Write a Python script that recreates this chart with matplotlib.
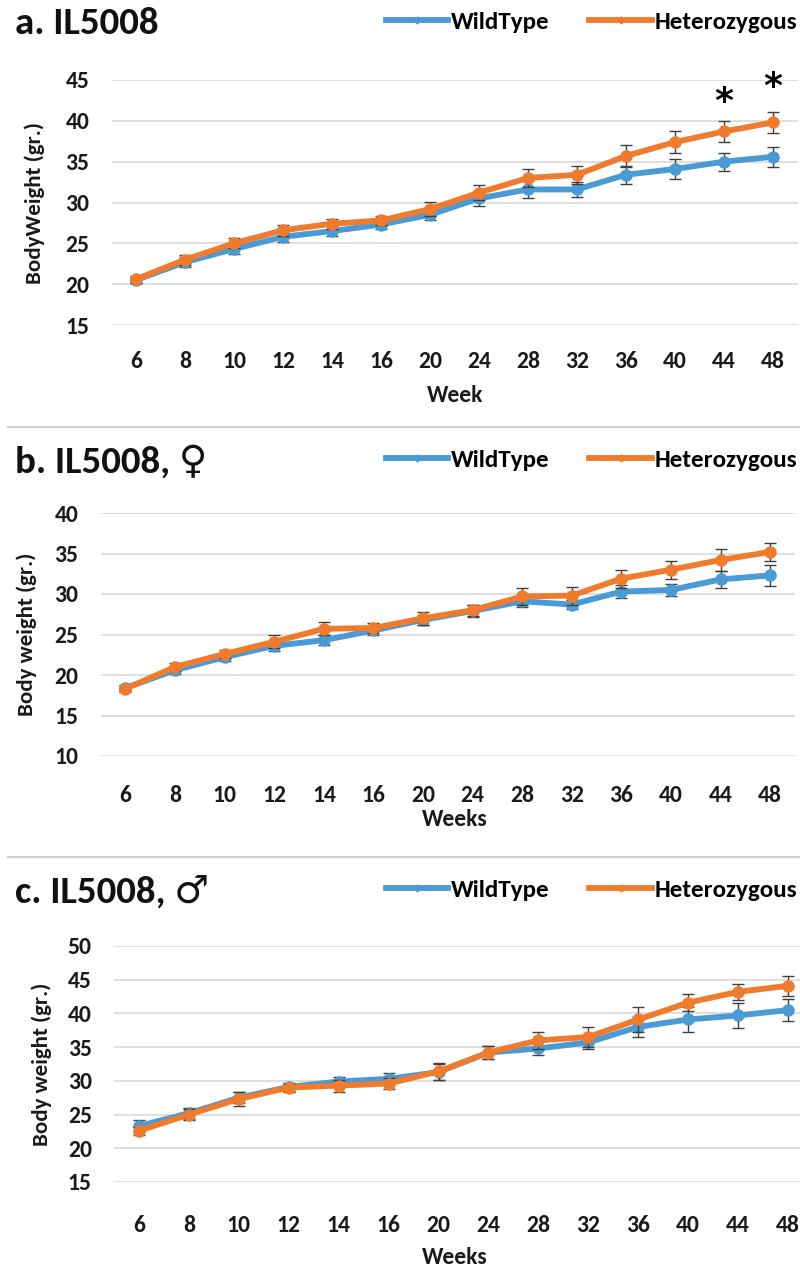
import matplotlib
matplotlib.use('Agg')
import matplotlib.pyplot as plt
from matplotlib.lines import Line2D
import numpy as np

# data
weeks = ['6', '8', '10', '12', '14', '16', '20', '24', '28', '32', '36', '40', '44', '48']

a_wt = [20.5, 22.7, 24.3, 25.8, 26.5, 27.3, 28.5, 30.5, 31.6, 31.6, 33.4, 34.1, 35.0, 35.6]
a_wt_err = [0.4, 0.6, 0.6, 0.6, 0.6, 0.6, 0.7, 0.9, 1.0, 0.9, 1.1, 1.2, 1.1, 1.2]
a_het = [20.6, 23.0, 25.0, 26.6, 27.4, 27.8, 29.2, 31.2, 33.0, 33.4, 35.7, 37.4, 38.7, 39.8]
a_het_err = [0.4, 0.6, 0.6, 0.7, 0.6, 0.6, 0.9, 0.9, 1.1, 1.1, 1.3, 1.3, 1.3, 1.3]

b_wt = [18.4, 20.6, 22.2, 23.6, 24.3, 25.5, 26.8, 27.9, 29.1, 28.7, 30.3, 30.5, 31.8, 32.3]
b_wt_err = [0.4, 0.5, 0.5, 0.6, 0.6, 0.5, 0.6, 0.7, 0.7, 0.6, 0.8, 0.7, 1.1, 1.3]
b_het = [18.3, 21.0, 22.6, 24.1, 25.7, 25.8, 27.0, 28.0, 29.7, 29.8, 31.9, 33.0, 34.2, 35.2]
b_het_err = [0.4, 0.5, 0.5, 0.8, 0.8, 0.6, 0.8, 0.7, 1.0, 1.1, 1.1, 1.1, 1.3, 1.1]

c_wt = [23.3, 25.2, 27.5, 29.1, 29.9, 30.3, 31.3, 34.2, 34.8, 35.7, 38.0, 39.1, 39.7, 40.5]
c_wt_err = [0.9, 0.8, 0.8, 0.6, 0.7, 0.8, 1.2, 0.9, 1.0, 1.0, 1.5, 1.8, 1.9, 1.6]
c_het = [22.6, 25.0, 27.3, 29.0, 29.3, 29.6, 31.4, 34.2, 36.0, 36.5, 39.1, 41.6, 43.2, 44.1]
c_het_err = [0.6, 0.8, 1.0, 0.6, 0.9, 0.8, 1.3, 0.9, 1.3, 1.5, 1.8, 1.3, 1.2, 1.5]

star_weeks = ['44', '48']
star_y = [42.3, 44.2]

W, H = 800, 1267
blue = '#4A9AD6'
orange = '#F07B2D'
fam = ['Carlito', 'Lato', 'DejaVu Sans']
plt.rcParams['font.family'] = fam
plt.rcParams['font.weight'] = 'bold'

fig = plt.figure(figsize=(W / 100, H / 100), dpi=100)


def px_axes(left, right, top, bottom):
    return fig.add_axes([left / W, 1 - bottom / H, (right - left) / W, (bottom - top) / H])


def panel(ax, wt, wt_err, het, het_err, ylo, yhi, title, title_y, xlabel, xlabel_y, ylabel, ylabel_x, xpad):
    x = np.arange(len(weeks))
    for t in np.arange(ylo, yhi + 1, 5):
        ax.axhline(t, color='#d9d9d9', lw=1.2, zorder=0)
    ax.errorbar(x, wt, yerr=wt_err, color=blue, lw=4.2, marker='o', ms=8,
                ecolor='#404040', elinewidth=1, capsize=4, capthick=1, zorder=2)
    ax.errorbar(x, het, yerr=het_err, color=orange, lw=4.2, marker='o', ms=8,
                ecolor='#404040', elinewidth=1, capsize=4, capthick=1, zorder=3)
    ax.set_xlim(-0.5, len(weeks) - 0.5)
    ax.set_ylim(ylo, yhi)
    ax.set_yticks(np.arange(ylo, yhi + 1, 5))
    ax.set_xticks(x)
    ax.set_xticklabels(weeks)
    for s in ax.spines.values():
        s.set_visible(False)
    ax.tick_params(axis='both', length=0, labelsize=17, colors='#1a1a1a')
    ax.tick_params(axis='x', pad=xpad)
    ax.tick_params(axis='y', pad=16)
    for lab in ax.get_xticklabels() + ax.get_yticklabels():
        lab.set_fontweight('bold')
    fig.text(15 / W, 1 - title_y / H, title, fontsize=28, fontweight='bold',
             va='center', ha='left', family=fam, color='#111111')
    fig.text(455 / W, 1 - xlabel_y / H, xlabel, fontsize=17, fontweight='bold',
             va='center', ha='center', color='#1a1a1a')
    fig.text(ylabel_x / W, ax.get_position().y0 + ax.get_position().height / 2, ylabel,
             fontsize=16.5, fontweight='bold', rotation=90, va='center', ha='center', color='#1a1a1a')
    handles = [Line2D([], [], color=blue, lw=4.2, marker='D', ms=3.5),
               Line2D([], [], color=orange, lw=4.2, marker='D', ms=3.5)]
    ax.legend(handles, ['WildType', 'Heterozygous'], loc='center right',
              bbox_to_anchor=(797 / W, 1 - (title_y - 2) / H),
              bbox_transform=fig.transFigure, ncol=2, frameon=False,
              fontsize=18, handlelength=2.5, handletextpad=0.1, columnspacing=1.6,
              borderaxespad=0, borderpad=0)
    return x


ax_a = px_axes(111.5, 797.5, 80, 325)
panel(ax_a, a_wt, a_wt_err, a_het, a_het_err, 15, 45, 'a. IL5008', 24,
      'Week', 395, 'BodyWeight (gr.)', 35, 19)
for wk, yy in zip(star_weeks, star_y):
    ax_a.text(weeks.index(wk), yy, '*', fontsize=26, fontweight='bold',
              ha='center', va='center', clip_on=False, family='DejaVu Sans')

ax_b = px_axes(100.7, 795, 513, 756)
panel(ax_b, b_wt, b_wt_err, b_het, b_het_err, 10, 40, 'b. IL5008, \u2640', 462,
      'Weeks', 820, 'Body weight (gr.)', 27, 21)

ax_c = px_axes(114, 813, 946, 1182)
panel(ax_c, c_wt, c_wt_err, c_het, c_het_err, 15, 50, 'c. IL5008, \u2642', 892,
      'Weeks', 1258, 'Body weight (gr.)', 42, 24)

# separators
for yy in [427, 857]:
    fig.add_artist(plt.Line2D([8 / W, 1], [1 - yy / H, 1 - yy / H], color='#d0d0d0', lw=1.5))

fig.savefig('out.png', dpi=100, facecolor='white')
